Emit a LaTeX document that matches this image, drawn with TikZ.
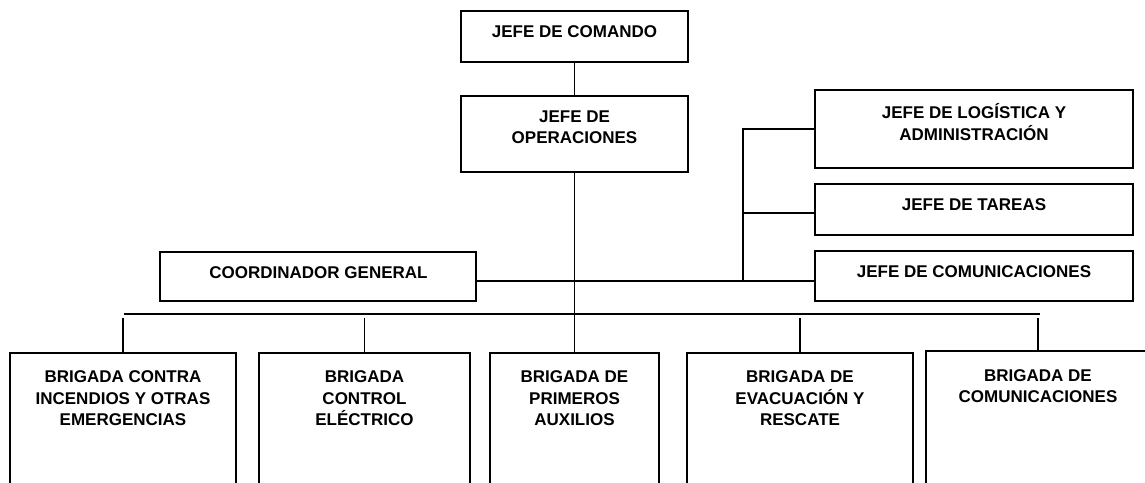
\documentclass[tikz,border=0pt]{standalone}
\usepackage{fontspec}
\setmainfont{Liberation Sans}
\begin{document}
\begin{tikzpicture}[x=1pt,y=-1pt,
  boxs/.style={draw=black,line width=1.6pt,inner sep=0pt,fill=white},
  lbl/.style={font=\fontsize{17}{21.5}\selectfont\bfseries,align=center,inner sep=0pt},
  conn/.style={line width=1.5pt}]
\useasboundingbox (0,0) rectangle (1145,482);
\fill[white] (0,0) rectangle (1145,482);
\clip (0,0) rectangle (1145,482);
% top chain
\node[boxs,minimum width=227pt,minimum height=51pt] (cmd) at (574.5,36.5) {};
\node[boxs,minimum width=227pt,minimum height=76pt] (ops) at (574.5,134) {};
\node[boxs,minimum width=316pt,minimum height=49pt] (coord) at (318,276.5) {};
\node[boxs,minimum width=318pt,minimum height=78pt] (log) at (974,129) {};
\node[boxs,minimum width=318pt,minimum height=51pt] (tar) at (974,209.5) {};
\node[boxs,minimum width=318pt,minimum height=50pt] (com) at (974,276) {};
% brigades (run past the bottom edge)
\node[boxs,minimum width=226pt,minimum height=160pt] (b1) at (123,433) {};
\node[boxs,minimum width=211pt,minimum height=160pt] (b2) at (364.5,433) {};
\node[boxs,minimum width=169pt,minimum height=160pt] (b3) at (574.5,433) {};
\node[boxs,minimum width=226pt,minimum height=160pt] (b4) at (800,433) {};
\node[boxs,minimum width=224pt,minimum height=162pt] (b5) at (1038,432) {};
% texts
\node[lbl] (cmdt) at (574.5,32) {JEFE DE COMANDO};
\node[lbl] (opst) at (574.5,127) {JEFE DE\\OPERACIONES};
\node[lbl] (coordt) at (318.5,273) {COORDINADOR GENERAL};
\node[lbl] (logt) at (974,122) {JEFE DE LOGÍSTICA Y\\ADMINISTRACIÓN};
\node[lbl] (tart) at (974,205) {JEFE DE TAREAS};
\node[lbl] (comt) at (974,272) {JEFE DE COMUNICACIONES};
\node[lbl] (b1t) at (123,398.5) {BRIGADA CONTRA\\INCENDIOS Y OTRAS\\EMERGENCIAS};
\node[lbl] (b2t) at (364.5,398.5) {BRIGADA\\CONTROL\\ELÉCTRICO};
\node[lbl] (b3t) at (574.5,398.5) {BRIGADA DE\\PRIMEROS\\AUXILIOS};
\node[lbl] (b4t) at (800,398.5) {BRIGADA DE\\EVACUACIÓN Y\\RESCATE};
\node[lbl] (b5t) at (1038,386) {BRIGADA DE\\COMUNICACIONES};
% connectors
\coordinate (jtop) at (743,129);
\coordinate (jbot) at (743,281);
\coordinate (busL) at (124,314);
\coordinate (busR) at (1040,314);
\draw[conn] (cmd.south) -- (ops.north);
\draw[conn] (ops.south) -- (b3.north);
\draw[conn] (coord.east |- jbot) -- (com.west |- jbot);
\draw[conn] (jbot) -- (jtop) -- (log.west);
\draw[conn] (jtop |- 0,213) -- (tar.west |- 0,213);
\draw[conn] (busL) -- (busR);
\draw[conn] (b1.north |- 0,318) -- (b1.north);
\draw[conn] (b2.north |- 0,318) -- (b2.north);
\draw[conn] (b4.north |- 0,318) -- (b4.north);
\draw[conn] (b5.north |- 0,318) -- (b5.north);
\end{tikzpicture}
\end{document}
